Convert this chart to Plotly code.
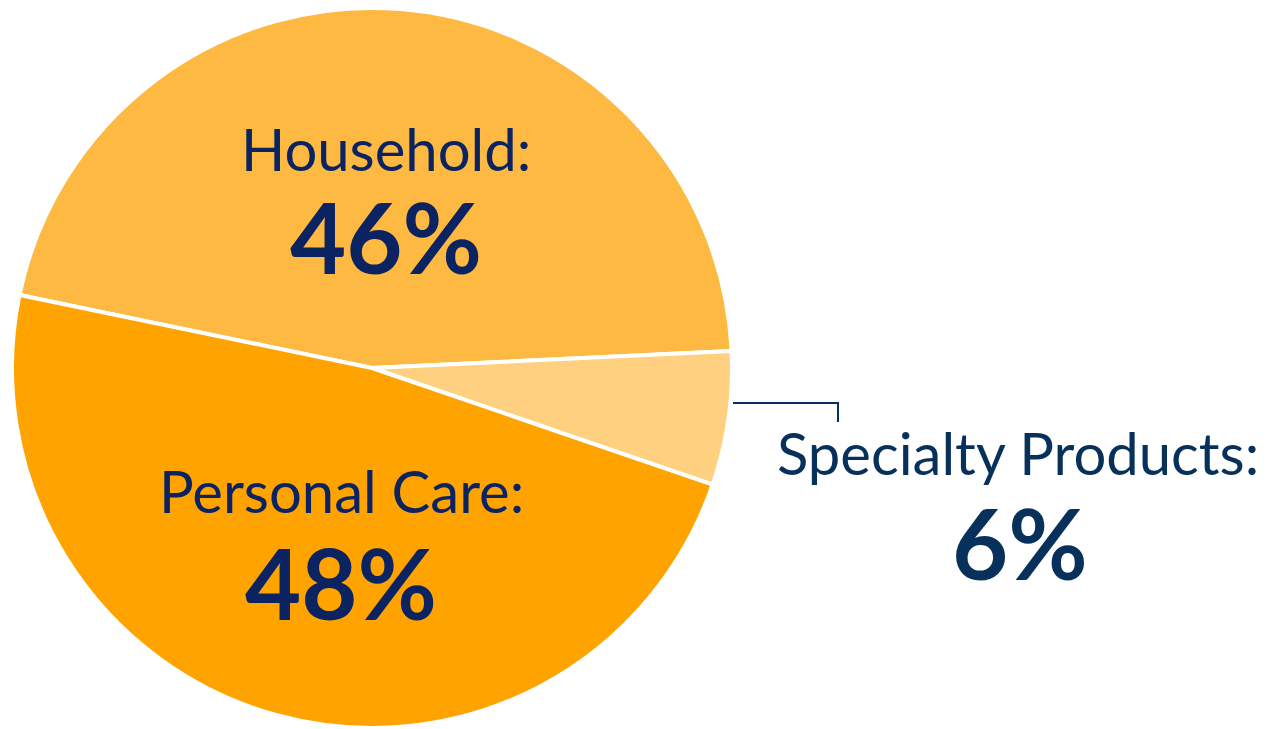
import plotly.graph_objects as go

# Segment shares of net sales (%)
segments = ["Household", "Specialty Products", "Personal Care"]
shares = [46, 6, 48]
colors = ["#FDB941", "#FFD07F", "#FFA300"]

W, H = 1270, 729
NAVY_IN = "#0B2461"
NAVY_OUT = "#07315B"
FONT = "Lato"

fig = go.Figure(
    go.Pie(
        labels=segments,
        values=shares,
        sort=False,
        direction="clockwise",
        rotation=-78.3,
        marker=dict(colors=colors, line=dict(color="white", width=4)),
        textinfo="none",
        hoverinfo="label+percent",
        domain=dict(x=[12 / W, 732 / W], y=[0.5 / H, 721.5 / H]),
        showlegend=False,
    )
)

def px(x):
    return x / W

def py(y):
    return 1 - y / H

# Label positions (pixel centres) for name line and value line
placements = {
    "Household": ((386, 148), (386, 236), NAVY_IN),
    "Personal Care": ((341, 490), (341, 582), NAVY_IN),
    "Specialty Products": ((1018, 452), (1020, 542), NAVY_OUT),
}

annotations = []
for name, val in zip(segments, shares):
    (nx, ny), (vx, vy), col = placements[name]
    annotations.append(dict(
        x=px(nx), y=py(ny), xref="paper", yref="paper",
        text=f"{name}:", showarrow=False, xanchor="center", yanchor="middle",
        font=dict(family=FONT, size=58, color=col),
    ))
    annotations.append(dict(
        x=px(vx), y=py(vy), xref="paper", yref="paper",
        text=f"<b>{val}%</b>", showarrow=False, xanchor="center", yanchor="middle",
        font=dict(family=FONT, size=97, color=col),
    ))

# Leader line for the small outside slice
leader = dict(
    type="path", xref="paper", yref="paper",
    path=f"M {px(733)},{py(403)} L {px(838)},{py(403)} L {px(838)},{py(422)}",
    line=dict(color=NAVY_OUT, width=2),
)

fig.update_layout(
    width=W, height=H,
    margin=dict(l=0, r=0, t=0, b=0),
    paper_bgcolor="white",
    plot_bgcolor="white",
    annotations=annotations,
    shapes=[leader],
)

fig.write_html("out.html")
